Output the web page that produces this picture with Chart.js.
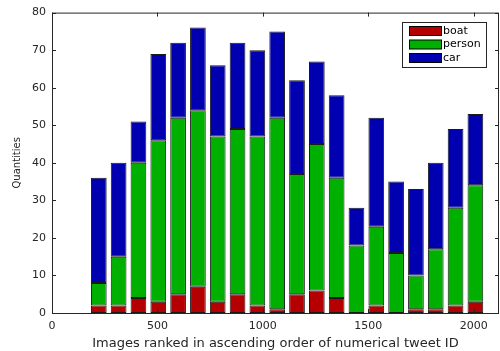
<!DOCTYPE html>
<html>
<head>
<meta charset="utf-8">
<script src="https://cdn.jsdelivr.net/npm/chart.js@4"></script>
<style>
  html, body { margin: 0; padding: 0; background: #fff; }
  #wrap { width: 500px; height: 351px; }
</style>
</head>
<body>
<div id="wrap"><canvas id="chart" width="500" height="351"></canvas></div>
<script>
// bar positions (image rank) and stacked quantities per class
const positions = [222, 316, 410, 504, 598, 692, 786, 880, 974, 1068, 1162, 1256, 1350, 1444, 1538, 1632, 1726, 1820, 1914, 2008];
const boat   = [2, 2, 4, 3, 5, 7, 3, 5, 2, 1, 5, 6, 4, 0, 2, 0, 1, 1, 2, 3];
const person = [6, 13, 36, 43, 47, 47, 44, 44, 45, 51, 32, 39, 32, 18, 21, 16, 9, 16, 26, 31];
const car    = [28, 25, 11, 23, 20, 22, 19, 23, 23, 23, 25, 22, 22, 10, 29, 19, 23, 23, 21, 19];
const xTicks = [0, 500, 1000, 1500, 2000];
const yTicks = [0, 10, 20, 30, 40, 50, 60, 70, 80];

const FONT = "'DejaVu Sans', sans-serif";
const TEXT = "#262626";

function toPoints(vals) {
  return vals.map((v, i) => ({ x: positions[i], y: v }));
}

// MATLAB-style box with inward ticks on all four sides
const boxPlugin = {
  id: "box",
  afterDraw(chart) {
    const { ctx, chartArea: a, scales } = chart;
    ctx.save();
    ctx.strokeStyle = TEXT;
    ctx.lineWidth = 1;
    ctx.strokeRect(a.left + 0.5, a.top + 0.5, a.right - a.left - 1, a.bottom - a.top);
    const len = 4;
    ctx.beginPath();
    xTicks.forEach(t => {
      const px = Math.round(scales.x.getPixelForValue(t)) + 0.5;
      ctx.moveTo(px, a.bottom); ctx.lineTo(px, a.bottom - len);
      ctx.moveTo(px, a.top); ctx.lineTo(px, a.top + len);
    });
    yTicks.forEach(t => {
      const py = Math.round(scales.y.getPixelForValue(t)) + 0.5;
      ctx.moveTo(a.left, py); ctx.lineTo(a.left + len, py);
      ctx.moveTo(a.right, py); ctx.lineTo(a.right - len, py);
    });
    ctx.stroke();
    ctx.restore();
  }
};

// legend box in the upper right corner
const legendPlugin = {
  id: "boxLegend",
  afterDraw(chart) {
    const { ctx } = chart;
    const x0 = 402, y0 = 22, w = 84, h = 45;
    ctx.save();
    ctx.fillStyle = "#fff";
    ctx.fillRect(x0, y0, w, h);
    ctx.strokeStyle = TEXT;
    ctx.lineWidth = 1;
    ctx.strokeRect(x0 + 0.5, y0 + 0.5, w, h);
    ctx.font = "11px " + FONT;
    ctx.textBaseline = "middle";
    chart.data.datasets.forEach((ds, i) => {
      const cy = y0 + 9 + i * 13.5;
      ctx.fillStyle = ds.backgroundColor;
      ctx.fillRect(x0 + 7, cy - 4.5, 32, 9);
      ctx.strokeStyle = "#000";
      ctx.strokeRect(x0 + 7.5, cy - 4.5, 32, 9);
      ctx.fillStyle = "#000";
      ctx.fillText(ds.label, x0 + 41, cy);
    });
    ctx.restore();
  }
};

new Chart(document.getElementById("chart"), {
  type: "bar",
  data: {
    datasets: [
      { label: "boat", data: toPoints(boat), backgroundColor: "#b40000" },
      { label: "person", data: toPoints(person), backgroundColor: "#00b000" },
      { label: "car", data: toPoints(car), backgroundColor: "#0000b0" }
    ].map(d => Object.assign(d, {
      borderColor: "#1a1a1a",
      borderWidth: 1,
      borderSkipped: false,
      barPercentage: 0.9,
      categoryPercentage: 0.88
    }))
  },
  options: {
    responsive: false,
    animation: false,
    layout: { padding: { top: 11, right: 1, left: 0, bottom: 0 } },
    plugins: { legend: { display: false }, tooltip: { enabled: false } },
    scales: {
      x: {
        type: "linear",
        stacked: true,
        offset: false,
        min: 0,
        max: 2120,
        afterBuildTicks: s => { s.ticks = xTicks.map(v => ({ value: v })); },
        afterFit: s => { s.height = 38; },
        grid: { display: false, drawTicks: false },
        border: { display: false },
        ticks: { color: TEXT, font: { family: FONT, size: 11 }, padding: 7, maxRotation: 0,
                 callback: v => String(v) },
        title: { display: true, text: "Images ranked in ascending order of numerical tweet ID",
                 color: TEXT, font: { family: FONT, size: 13 }, padding: { top: 0, bottom: 0 } }
      },
      y: {
        stacked: true,
        min: 0,
        max: 80,
        afterBuildTicks: s => { s.ticks = yTicks.map(v => ({ value: v })); },
        afterFit: s => { s.width = 52; },
        grid: { display: false, drawTicks: false },
        border: { display: false },
        ticks: { color: TEXT, font: { family: FONT, size: 11 }, padding: 6 },
        title: { display: true, text: "Quantities", color: TEXT,
                 font: { family: FONT, size: 10 }, padding: { top: 11, bottom: 0 } }
      }
    }
  },
  plugins: [boxPlugin, legendPlugin]
});
</script>
</body>
</html>
